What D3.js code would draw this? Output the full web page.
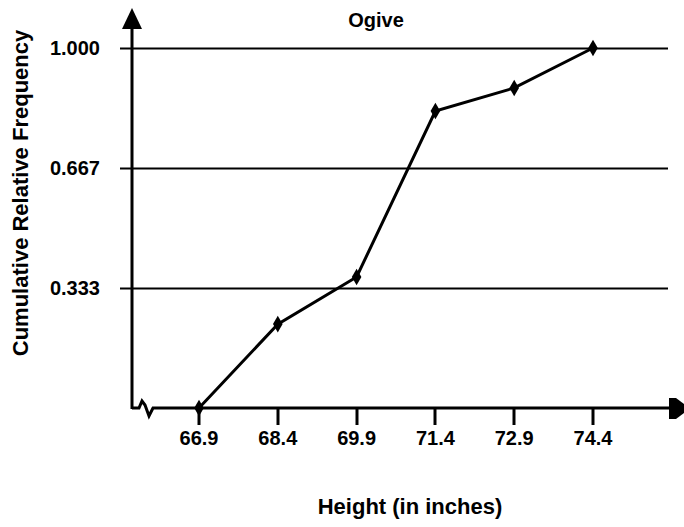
<!DOCTYPE html>
<html>
<head>
<meta charset="utf-8">
<script src="https://cdn.jsdelivr.net/npm/d3@7"></script>
<style>
  body { margin: 0; background: #fff; }
  text { font-family: "Liberation Sans", Arial, sans-serif; font-weight: bold; fill: #000; }
</style>
</head>
<body>
<div id="chart"></div>
<script>
// data
const heights = [66.9, 68.4, 69.9, 71.4, 72.9, 74.4];
const cumRelFreq = [0, 0.233, 0.364, 0.825, 0.889, 1.0];
const yTicks = [0.333, 0.667, 1.000];
const yTickLabels = ["0.333", "0.667", "1.000"];

const width = 684, height = 527;
const origin = {x: 132, y: 408};

const svg = d3.select("#chart").append("svg")
    .attr("width", width)
    .attr("height", height);

const x = d3.scaleLinear()
    .domain([66.9, 74.4])
    .range([199, 593]);

const y = d3.scaleLinear()
    .domain([0, 1])
    .range([origin.y, 48]);

// horizontal grid lines + y ticks
svg.append("g")
    .selectAll("line")
    .data(yTicks)
    .join("line")
    .attr("x1", 120)
    .attr("x2", 668)
    .attr("y1", d => Math.round(y(d)) + 0.5)
    .attr("y2", d => Math.round(y(d)) + 0.5)
    .attr("stroke", "#000")
    .attr("stroke-width", 2);

svg.append("g")
    .selectAll("text")
    .data(yTicks)
    .join("text")
    .attr("x", 100)
    .attr("y", d => y(d))
    .attr("dy", "0.36em")
    .attr("text-anchor", "end")
    .attr("font-size", 20)
    .text((d, i) => yTickLabels[i]);

// x ticks
svg.append("g")
    .selectAll("line")
    .data(heights)
    .join("line")
    .attr("x1", d => Math.round(x(d)))
    .attr("x2", d => Math.round(x(d)))
    .attr("y1", origin.y)
    .attr("y2", 425)
    .attr("stroke", "#000")
    .attr("stroke-width", 3);

svg.append("g")
    .selectAll("text")
    .data(heights)
    .join("text")
    .attr("x", d => x(d))
    .attr("y", 445)
    .attr("text-anchor", "middle")
    .attr("font-size", 20)
    .text(d => d3.format(".1f")(d));

// y axis with arrow
svg.append("line")
    .attr("x1", origin.x).attr("x2", origin.x)
    .attr("y1", 24).attr("y2", origin.y + 1)
    .attr("stroke", "#000")
    .attr("stroke-width", 3);
svg.append("path")
    .attr("d", `M${origin.x},8 L${origin.x + 10},29 L${origin.x - 10},29 Z`)
    .attr("fill", "#000");

// x axis with break and arrow
svg.append("path")
    .attr("d", `M${origin.x},${origin.y} L139,${origin.y} L142,401 L145,405 L149,416 L153,${origin.y} L672,${origin.y}`)
    .attr("fill", "none")
    .attr("stroke", "#000")
    .attr("stroke-width", 3)
    .attr("stroke-linejoin", "miter");
svg.append("path")
    .attr("d", `M669,398 L676,398 L684,404 L684,413 L676,419 L669,419 Z`)
    .attr("fill", "#000");

// ogive line
const line = d3.line()
    .x((d, i) => x(heights[i]))
    .y(d => y(d));

svg.append("path")
    .datum(cumRelFreq)
    .attr("d", line)
    .attr("fill", "none")
    .attr("stroke", "#000")
    .attr("stroke-width", 3);

svg.append("g")
    .selectAll("path")
    .data(cumRelFreq)
    .join("path")
    .attr("transform", (d, i) => `translate(${x(heights[i])},${y(d)})`)
    .attr("d", d3.symbol(d3.symbolDiamond, 80))
    .attr("fill", "#000");

// titles
svg.append("text")
    .attr("x", 376)
    .attr("y", 27)
    .attr("text-anchor", "middle")
    .attr("font-size", 20)
    .text("Ogive");

svg.append("text")
    .attr("x", 410)
    .attr("y", 514)
    .attr("text-anchor", "middle")
    .attr("font-size", 22)
    .text("Height (in inches)");

svg.append("text")
    .attr("transform", "translate(28,193) rotate(-90)")
    .attr("text-anchor", "middle")
    .attr("font-size", 22)
    .text("Cumulative Relative Frequency");
</script>
</body>
</html>
